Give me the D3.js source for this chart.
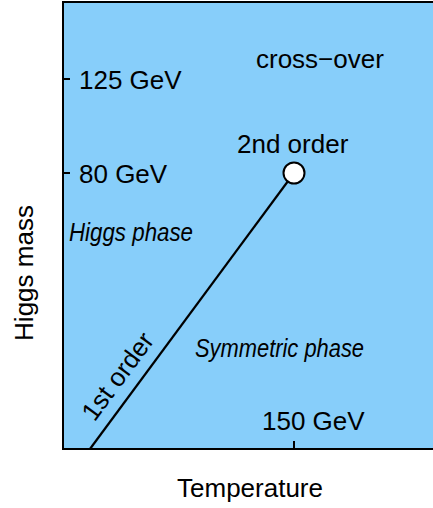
<!DOCTYPE html>
<html>
<head>
<meta charset="utf-8">
<script src="https://cdn.jsdelivr.net/npm/d3@7.9.0/dist/d3.min.js"></script>
<style>
  body { margin: 0; background: #fff; }
  svg text { font-family: "Liberation Sans", Arial, Helvetica, sans-serif; fill: #000; }
</style>
</head>
<body>
<svg id="chart" width="433" height="508"></svg>
<script>
// schematic phase diagram: Higgs mass vs temperature
const massTicks = [125, 80];
const massLabels = ['125 GeV', '80 GeV'];
const tempTicks = [150];
const tempLabels = ['150 GeV'];
// first order transition line, ending in the 2nd order point
const lineT = [17.5, 150];
const lineM = [0, 80];
const endPoint = [{ T: 150, m: 80 }];

const svg = d3.select('#chart');
const plotL = 63, plotR = 440, plotT = 2, plotB = 449;

// piecewise scales, the axes are only schematic
const x = d3.scaleLinear().domain([0, 150, 230]).range([plotL, 294, 433]);
const y = d3.scaleLinear().domain([0, 80, 125, 160]).range([plotB, 173, 79, plotT]);

svg.append('rect')
  .attr('x', plotL).attr('y', plotT)
  .attr('width', plotR - plotL).attr('height', plotB - plotT)
  .attr('fill', '#87cefa');

// frame
svg.append('path')
  .attr('d', `M${plotR},${plotT}H${plotL}V${plotB}H${plotR}`)
  .attr('fill', 'none').attr('stroke', '#000').attr('stroke-width', 2);

// ticks (inside)
svg.selectAll('.ytick').data(massTicks).join('line')
  .attr('x1', plotL).attr('x2', plotL + 7)
  .attr('y1', d => y(d)).attr('y2', d => y(d))
  .attr('stroke', '#000').attr('stroke-width', 2);
svg.selectAll('.ylab').data(massTicks).join('text')
  .attr('x', 79).attr('y', d => y(d) + 10)
  .attr('font-size', 26)
  .text((d, i) => massLabels[i]);

svg.selectAll('.xtick').data(tempTicks).join('line')
  .attr('x1', d => x(d)).attr('x2', d => x(d))
  .attr('y1', plotB).attr('y2', plotB - 8)
  .attr('stroke', '#000').attr('stroke-width', 2);
svg.selectAll('.xlab').data(tempTicks).join('text')
  .attr('x', d => x(d) - 32).attr('y', 430)
  .attr('font-size', 26)
  .text((d, i) => tempLabels[i]);

// transition line
const pts = lineT.map((t, i) => [x(t), y(lineM[i])]);
svg.append('path')
  .attr('d', d3.line()(pts))
  .attr('stroke', '#000').attr('stroke-width', 2.2).attr('fill', 'none');

svg.selectAll('.endpt').data(endPoint).join('circle')
  .attr('cx', d => x(d.T)).attr('cy', d => y(d.m)).attr('r', 10.5)
  .attr('fill', '#fff').attr('stroke', '#000').attr('stroke-width', 2);

// "1st order" along the line
const ang = Math.atan2(pts[1][1] - pts[0][1], pts[1][0] - pts[0][0]);
const dx = Math.cos(ang), dy = Math.sin(ang);
const s = 75, off = 12;
const px = pts[0][0] + dx * s + dy * off, py = pts[0][1] + dy * s - dx * off;
svg.append('text')
  .attr('transform', `translate(${px},${py}) rotate(${ang * 180 / Math.PI})`)
  .attr('text-anchor', 'middle').attr('font-size', 26)
  .attr('textLength', 102).attr('lengthAdjust', 'spacingAndGlyphs')
  .text('1st order');

// region labels
svg.append('text').attr('x', 256).attr('y', 68).attr('font-size', 26).text('cross\u2212over');
svg.append('text').attr('x', 237).attr('y', 153).attr('font-size', 26).text('2nd order');
svg.append('text').attr('x', 69).attr('y', 241).attr('font-size', 26)
  .attr('font-style', 'italic')
  .attr('textLength', 124).attr('lengthAdjust', 'spacingAndGlyphs')
  .text('Higgs phase');
svg.append('text').attr('x', 195).attr('y', 357).attr('font-size', 26)
  .attr('font-style', 'italic')
  .attr('textLength', 169).attr('lengthAdjust', 'spacingAndGlyphs')
  .text('Symmetric phase');

// axis titles
svg.append('text').attr('x', 250).attr('y', 497)
  .attr('text-anchor', 'middle').attr('font-size', 26).text('Temperature');
svg.append('text')
  .attr('transform', 'translate(33,273) rotate(-90)')
  .attr('text-anchor', 'middle').attr('font-size', 26).text('Higgs mass');
</script>
</body>
</html>
